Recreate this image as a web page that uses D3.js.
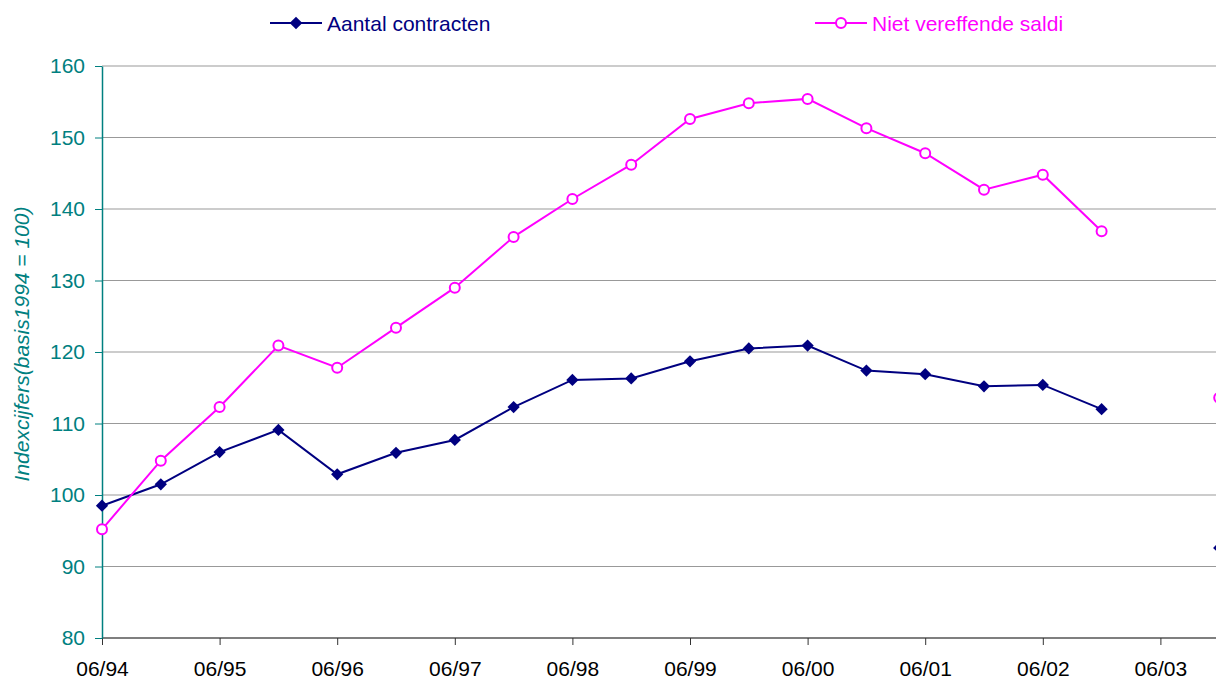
<!DOCTYPE html>
<html>
<head>
<meta charset="utf-8">
<script src="https://cdn.jsdelivr.net/npm/d3@7"></script>
<style>
  body { margin: 0; background: #fff; }
  svg { display: block; font-family: "Liberation Sans", Arial, sans-serif; }
</style>
</head>
<body>
<svg id="chart" width="1216" height="682"></svg>
<script>
// half-year periods, 06/03 has no observation
var periods = ["06/94","12/94","06/95","12/95","06/96","12/96","06/97","12/97","06/98","12/98",
               "06/99","12/99","06/00","12/00","06/01","12/01","06/02","12/02","06/03","12/03"];
var contracten = [98.5,101.5,106.0,109.1,102.9,105.9,107.7,112.3,116.1,116.3,
                  118.7,120.5,120.9,117.4,116.9,115.2,115.4,112.0,null,92.6];
var saldi = [95.2,104.8,112.3,120.9,117.8,123.4,129.0,136.1,141.4,146.2,
             152.6,154.8,155.4,151.3,147.8,142.7,144.8,136.9,null,113.6];
var yTicks = [80,90,100,110,120,130,140,150,160];
var xTickLabels = ["06/94","06/95","06/96","06/97","06/98","06/99","06/00","06/01","06/02","06/03"];

var navy = "#000080", pink = "#ff00ff", teal = "#008080";

var svg = d3.select("#chart");
var margin = {left: 102, top: 66, bottom: 44};
var height = 682 - margin.top - margin.bottom;

var x = d3.scaleLinear().domain([0, 1]).range([margin.left, margin.left + 58.8]);
var y = d3.scaleLinear().domain([80, 160]).range([margin.top + height, margin.top]);

// gridlines
svg.append("g").selectAll("line")
    .data(yTicks.slice(1))
    .enter().append("line")
    .attr("x1", margin.left).attr("x2", 1216)
    .attr("y1", function(d){ return y(d); })
    .attr("y2", function(d){ return y(d); })
    .style("stroke", "#999").style("stroke-width", 1);

// x axis
var xAxis = d3.axisBottom(x)
    .tickValues(d3.range(0, 19, 2))
    .tickFormat(function(d){ return xTickLabels[d / 2]; })
    .tickSize(7).tickSizeOuter(0);
var gx = svg.append("g")
    .attr("transform", "translate(0," + y(80) + ")")
    .call(xAxis);
gx.select(".domain").attr("d", "M" + margin.left + ",0H1216").style("stroke", "#555").style("stroke-width", 1.5);
gx.selectAll(".tick line").style("stroke", "#333");
gx.selectAll(".tick text").attr("y", 0).attr("dy", 38).style("font-size", "21px").style("fill", "#000");

// y axis
var yAxis = d3.axisLeft(y).tickValues(yTicks).tickSize(7).tickSizeOuter(0);
var gy = svg.append("g")
    .attr("transform", "translate(" + margin.left + ",0)")
    .call(yAxis);
gy.select(".domain").style("stroke", teal).style("stroke-width", 1.5);
gy.selectAll(".tick line").style("stroke", teal);
gy.selectAll(".tick text").attr("x", -17).style("font-size", "21px").style("fill", teal);

svg.append("text")
    .attr("transform", "translate(29,344) rotate(-90)")
    .attr("text-anchor", "middle")
    .style("font-size", "21px").style("font-style", "italic").style("fill", teal)
    .text("Indexcijfers(basis1994 = 100)");

var line = d3.line()
    .defined(function(d){ return d != null; })
    .x(function(d, i){ return x(i); })
    .y(function(d){ return y(d); });

function drawSeries(values, color) {
    var g = svg.append("g");
    g.append("path")
        .datum(values)
        .attr("d", line)
        .style("fill", "none").style("stroke", color).style("stroke-width", 2);
    return g;
}

function points(values) {
    return values.map(function(v, i){ return {v: v, i: i}; })
        .filter(function(d){ return d.v != null; });
}

var gc = drawSeries(contracten, navy);
gc.selectAll("path.pt")
    .data(points(contracten))
    .enter().append("path").attr("class", "pt")
    .attr("d", d3.symbol().type(d3.symbolSquare).size(75))
    .attr("transform", function(d){ return "translate(" + x(d.i) + "," + y(d.v) + ") rotate(45)"; })
    .style("fill", navy);

var gs = drawSeries(saldi, pink);
gs.selectAll("circle")
    .data(points(saldi))
    .enter().append("circle")
    .attr("cx", function(d){ return x(d.i); })
    .attr("cy", function(d){ return y(d.v); })
    .attr("r", 5)
    .style("fill", "#fff").style("stroke", pink).style("stroke-width", 2);

// legend
var legend = [
    {name: "Aantal contracten", color: navy, x: 270, marker: "diamond"},
    {name: "Niet vereffende saldi", color: pink, x: 815, marker: "circle"}
];
var lg = svg.selectAll("g.legend").data(legend).enter().append("g")
    .attr("class", "legend")
    .attr("transform", function(d){ return "translate(" + d.x + ",23)"; });
lg.append("line").attr("x1", 0).attr("x2", 52).attr("y1", 0).attr("y2", 0)
    .style("stroke", function(d){ return d.color; }).style("stroke-width", 2);
lg.each(function(d){
    var g = d3.select(this);
    if (d.marker === "diamond") {
        g.append("path").attr("d", d3.symbol().type(d3.symbolSquare).size(80))
            .attr("transform", "translate(26,0) rotate(45)").style("fill", d.color);
    } else {
        g.append("circle").attr("cx", 26).attr("cy", 0).attr("r", 5)
            .style("fill", "#fff").style("stroke", d.color).style("stroke-width", 2);
    }
});
lg.append("text").attr("x", 57).attr("y", 8)
    .style("font-size", "21px")
    .style("fill", function(d){ return d.color; })
    .text(function(d){ return d.name; });
</script>
</body>
</html>
